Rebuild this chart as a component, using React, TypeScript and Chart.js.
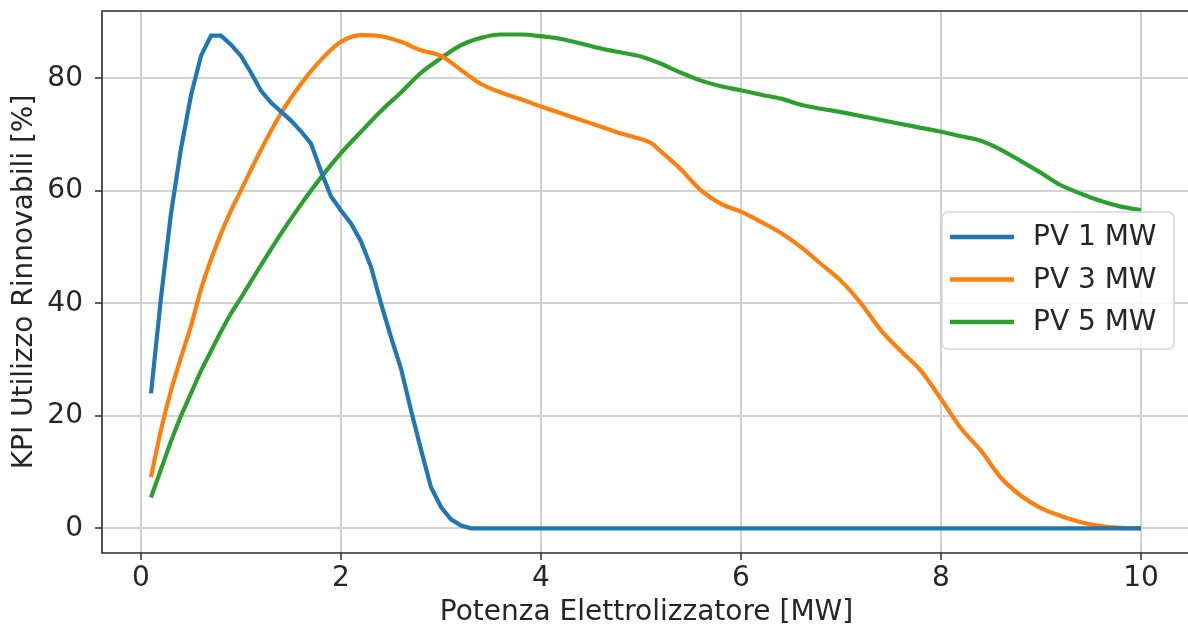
import React, { useEffect, useRef } from "react";
import { Chart, registerables } from "chart.js";

Chart.register(...registerables);

// ---- data ----
const seriesLabels = ["PV 1 MW", "PV 3 MW", "PV 5 MW"];
const seriesColors = ["#1f77b4", "#ff7f0e", "#2ca02c"];

const xPV1 = [0.1, 0.2, 0.3, 0.4, 0.5, 0.6, 0.7, 0.8, 0.9, 1.0, 1.1, 1.2, 1.3, 1.4, 1.5, 1.6, 1.7, 1.8, 1.9, 2.0, 2.1, 2.2, 2.3, 2.4, 2.5, 2.6, 2.7, 2.8, 2.9, 3.0, 3.1, 3.2, 3.3, 10.0];
const yPV1 = [24, 41, 56, 67.5, 77, 84, 87.6, 87.6, 86, 84, 81, 77.8, 75.7, 74.1, 72.5, 70.6, 68.4, 63.5, 59, 56.5, 54.2, 51, 46.5, 40, 34, 28.4, 21, 14, 7.3, 3.8, 1.6, 0.5, 0, 0];

const xPV3 = [0.1, 0.2, 0.3, 0.4, 0.5, 0.6, 0.7, 0.8, 0.9, 1.0, 1.2, 1.4, 1.6, 1.8, 2.0, 2.2, 2.4, 2.6, 2.8, 3.0, 3.2, 3.4, 3.6, 3.8, 4.0, 4.2, 4.4, 4.6, 4.8, 5.0, 5.1, 5.2, 5.4, 5.6, 5.8, 6.0, 6.2, 6.4, 6.6, 6.8, 7.0, 7.2, 7.4, 7.6, 7.8, 8.0, 8.2, 8.4, 8.6, 8.8, 9.0, 9.2, 9.4, 9.6, 9.8, 10.0];
const yPV3 = [9.1, 17.5, 24.5, 30.4, 36, 42.5, 47.8, 52.4, 56.5, 60.1, 67.3, 73.8, 79, 83.3, 86.5, 87.7, 87.5, 86.5, 85, 84, 81.5, 79, 77.5, 76.3, 75, 73.8, 72.6, 71.4, 70.2, 69.2, 68.5, 67, 63.8, 60.1, 57.7, 56.3, 54.5, 52.5, 50, 47, 44, 40, 35.2, 31.5, 28, 23, 17.8, 13.8, 9, 5.8, 3.6, 2.2, 1.1, 0.4, 0.1, 0];

const xPV5 = [0.1, 0.2, 0.3, 0.4, 0.5, 0.6, 0.7, 0.8, 0.9, 1.0, 1.2, 1.4, 1.6, 1.8, 2.0, 2.2, 2.4, 2.6, 2.8, 3.0, 3.2, 3.4, 3.6, 3.8, 4.0, 4.2, 4.4, 4.6, 4.8, 5.0, 5.2, 5.4, 5.6, 5.8, 6.0, 6.2, 6.4, 6.6, 6.8, 7.0, 7.2, 7.4, 7.6, 7.8, 8.0, 8.2, 8.4, 8.6, 8.8, 9.0, 9.2, 9.4, 9.6, 9.8, 10.0];
const yPV5 = [5.5, 10.5, 15.5, 20, 24, 28, 31.5, 35, 38.2, 41, 46.8, 52.4, 57.6, 62.4, 66.7, 70.5, 74.2, 77.5, 81, 83.6, 85.9, 87.2, 87.8, 87.8, 87.5, 87, 86.2, 85.3, 84.6, 83.9, 82.6, 81, 79.6, 78.6, 77.9, 77.1, 76.4, 75.3, 74.6, 74, 73.3, 72.6, 71.9, 71.2, 70.5, 69.7, 68.9, 67.3, 65.3, 63.2, 61, 59.5, 58.2, 57.2, 56.6];

const xTicks = [0, 2, 4, 6, 8, 10];
const yTicks = [0, 20, 40, 60, 80];
const xTitle = "Potenza Elettrolizzatore [MW]";
const yTitle = "KPI Utilizzo Rinnovabili [%]";

const FONT = "'DejaVu Sans', sans-serif";
const TEXT = "#262626";

// top, left and bottom spines (the right spine lies outside the visible picture)
const framePlugin = {
  id: "mplFrame",
  afterDatasetsDraw(chart: any) {
    const { ctx, chartArea: a, width } = chart;
    ctx.save();
    ctx.strokeStyle = "#2b2b2b";
    ctx.lineWidth = 1.6;
    ctx.beginPath();
    ctx.moveTo(width + 5, a.top);
    ctx.lineTo(a.left, a.top);
    ctx.lineTo(a.left, a.bottom);
    ctx.lineTo(width + 5, a.bottom);
    ctx.stroke();
    ctx.restore();
  },
};

const legendPlugin = {
  id: "mplLegend",
  afterDraw(chart: any) {
    const { ctx, chartArea: a } = chart;
    const ds = chart.data.datasets;
    const bw = 232;
    const bh = 137;
    const right = a.right - 17;
    const left = right - bw;
    const top = (a.top + a.bottom) / 2 - bh / 2 - 1.5;
    ctx.save();
    ctx.beginPath();
    if (ctx.roundRect) ctx.roundRect(left, top, bw, bh, 6);
    else ctx.rect(left, top, bw, bh);
    ctx.fillStyle = "rgba(255,255,255,0.85)";
    ctx.fill();
    ctx.strokeStyle = "#d6d6d6";
    ctx.lineWidth = 1.5;
    ctx.stroke();
    const rowH = 42.5;
    ds.forEach((d: any, i: number) => {
      const cy = top + 25 + i * rowH;
      ctx.beginPath();
      ctx.strokeStyle = d.borderColor;
      ctx.lineWidth = 4.5;
      ctx.moveTo(left + 8, cy);
      ctx.lineTo(left + 72, cy);
      ctx.stroke();
      ctx.fillStyle = TEXT;
      ctx.font = `28px ${FONT}`;
      ctx.textBaseline = "middle";
      ctx.textAlign = "left";
      ctx.fillText(d.label, left + 91, cy + 1);
    });
    ctx.restore();
  },
};

export default function App() {
  const ref = useRef<HTMLCanvasElement | null>(null);

  useEffect(() => {
    if (!ref.current) return;
    const mk = (xs: number[], ys: number[]) => xs.map((x, i) => ({ x, y: ys[i] }));
    const chart = new Chart(ref.current, {
      type: "line",
      data: {
        datasets: [
          { label: seriesLabels[0], data: mk(xPV1, yPV1), borderColor: seriesColors[0], backgroundColor: seriesColors[0], borderWidth: 4.2, pointRadius: 0, tension: 0 },
          { label: seriesLabels[1], data: mk(xPV3, yPV3), borderColor: seriesColors[1], backgroundColor: seriesColors[1], borderWidth: 4.2, pointRadius: 0, cubicInterpolationMode: "monotone" },
          { label: seriesLabels[2], data: mk(xPV5, yPV5), borderColor: seriesColors[2], backgroundColor: seriesColors[2], borderWidth: 4.2, pointRadius: 0, cubicInterpolationMode: "monotone" },
        ],
      },
      options: {
        responsive: false,
        animation: false,
        events: [],
        layout: { padding: { top: 11, right: 1, left: 0, bottom: 0 } },
        plugins: { legend: { display: false }, tooltip: { enabled: false } },
        scales: {
          x: {
            type: "linear",
            min: -0.39,
            max: 10.5,
            afterBuildTicks: (s: any) => { s.ticks = xTicks.map((v) => ({ value: v })); },
            afterFit: (s: any) => { s.height = 80; s.paddingLeft = 0; s.paddingRight = 0; },
            ticks: { color: TEXT, font: { family: FONT, size: 28 }, padding: 2, autoSkip: false, maxRotation: 0, callback: (v: any) => String(v) },
            grid: { color: "#d2d2d2", lineWidth: 2, drawTicks: true, tickLength: 7, tickColor: "#2b2b2b", tickWidth: 1.5 },
            border: { display: false },
            title: { display: true, text: xTitle, color: TEXT, font: { family: FONT, size: 28 }, padding: { top: 0, bottom: 3 } },
          },
          y: {
            type: "linear",
            min: -4.38,
            max: 91.98,
            afterBuildTicks: (s: any) => { s.ticks = yTicks.map((v) => ({ value: v })); },
            afterFit: (s: any) => { s.width = 102; s.paddingTop = 0; s.paddingBottom = 0; },
            ticks: { color: TEXT, font: { family: FONT, size: 28 }, padding: 12, callback: (v: any) => String(v) },
            grid: { color: "#d2d2d2", lineWidth: 2, drawTicks: true, tickLength: 7, tickColor: "#2b2b2b", tickWidth: 1.5 },
            border: { display: false },
            title: { display: true, text: yTitle, color: TEXT, font: { family: FONT, size: 28 }, padding: { top: 8, bottom: 0 } },
          },
        },
      },
      plugins: [framePlugin, legendPlugin],
    } as any);
    return () => chart.destroy();
  }, []);

  return (
    <div style={{ position: "fixed", left: 0, top: 0, width: 1188, height: 633, overflow: "hidden", background: "#fff" }}>
      <canvas ref={ref} width={1192} height={633} style={{ display: "block" }} />
    </div>
  );
}
